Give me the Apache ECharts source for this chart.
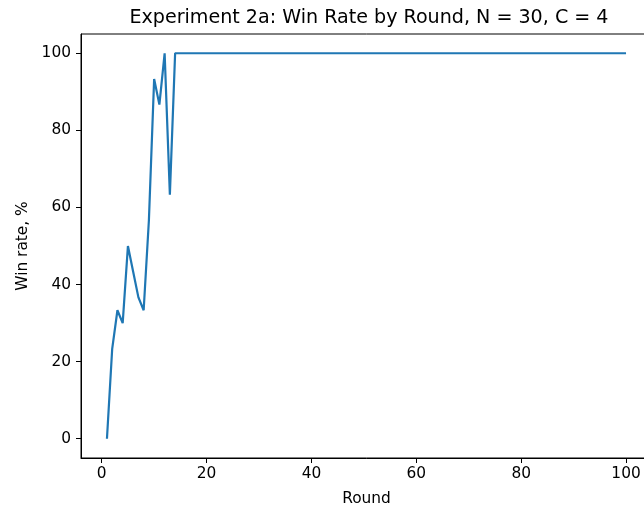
<!DOCTYPE html>
<html>
<head>
<meta charset="utf-8">
<script src="https://cdn.jsdelivr.net/npm/echarts@6/dist/echarts.min.js"></script>
<style>
html,body{margin:0;padding:0;background:#fff;overflow:hidden;}
#chart{width:664px;height:513px;}
</style>
</head>
<body>
<div id="chart"></div>
<script>
const titleText = "Experiment 2a: Win Rate by Round, N = 30, C = 4";
const xName = "Round";
const yName = "Win rate, %";
const xTicks = [0, 20, 40, 60, 80, 100];
const yTicks = [0, 20, 40, 60, 80, 100];
const winRate = [
  0, 23.33, 33.33, 30, 50, 43.33, 36.67, 33.33, 56.67, 93.33,
  86.67, 100, 63.33, 100, 100, 100, 100, 100, 100, 100,
  100, 100, 100, 100, 100, 100, 100, 100, 100, 100,
  100, 100, 100, 100, 100, 100, 100, 100, 100, 100,
  100, 100, 100, 100, 100, 100, 100, 100, 100, 100,
  100, 100, 100, 100, 100, 100, 100, 100, 100, 100,
  100, 100, 100, 100, 100, 100, 100, 100, 100, 100,
  100, 100, 100, 100, 100, 100, 100, 100, 100, 100,
  100, 100, 100, 100, 100, 100, 100, 100, 100, 100,
  100, 100, 100, 100, 100, 100, 100, 100, 100, 100
];
const rounds = winRate.map((v, i) => i + 1);

const chart = echarts.init(document.getElementById('chart'));
const font = 'DejaVu Sans';
chart.setOption({
  animation: false,
  backgroundColor: '#fff',
  title: {
    text: titleText,
    left: 364, textAlign: 'center', top: 4,
    textStyle: {fontFamily: font, fontSize: 19.1, fontWeight: 'normal', color: '#000'}
  },
  grid: {
    left: 81, right: 12, top: 34, bottom: 55,
    show: true, borderColor: '#000', borderWidth: 1, backgroundColor: 'transparent'
  },
  xAxis: {
    type: 'value', min: -3.95, max: 104.95,
    name: xName, nameLocation: 'middle', nameGap: 33,
    nameTextStyle: {fontFamily: font, fontSize: 15.4, color: '#000'},
    axisLine: {show: true, onZero: false, lineStyle: {color: '#000', width: 1}},
    axisTick: {show: true, customValues: xTicks, length: 5, lineStyle: {color: '#000', width: 1}},
    axisLabel: {customValues: xTicks, margin: 8, fontFamily: font, fontSize: 15.4, color: '#000'},
    splitLine: {show: false}
  },
  yAxis: {
    type: 'value', min: -5, max: 105,
    name: yName, nameLocation: 'middle', nameGap: 50,
    nameTextStyle: {fontFamily: font, fontSize: 15.4, color: '#000'},
    axisLine: {show: true, onZero: false, lineStyle: {color: '#000', width: 1}},
    axisTick: {show: true, customValues: yTicks, length: 5, lineStyle: {color: '#000', width: 1}},
    axisLabel: {customValues: yTicks, margin: 10, fontFamily: font, fontSize: 15.4, color: '#000'},
    splitLine: {show: false}
  },
  series: [{
    type: 'line',
    data: rounds.map((r, i) => [r, winRate[i]]),
    showSymbol: false,
    lineStyle: {color: '#1f77b4', width: 2.2},
    itemStyle: {color: '#1f77b4'}
  }]
});
</script>
</body>
</html>
